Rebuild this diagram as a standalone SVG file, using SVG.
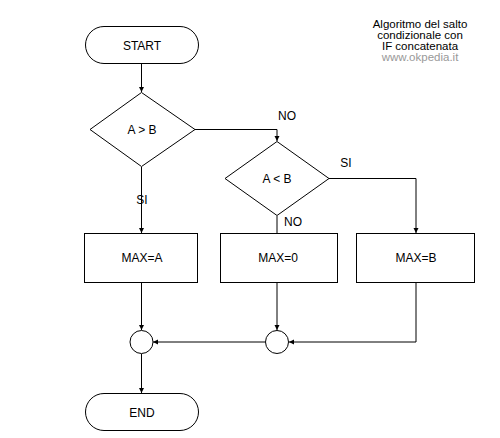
<svg xmlns="http://www.w3.org/2000/svg" width="500" height="438" viewBox="0 0 500 438">
<style>
.shape{fill:#fff;stroke:#000;stroke-width:1}
.lbl{font-family:"Liberation Sans",Arial,sans-serif;font-size:12px;fill:#000;text-anchor:middle}
.edge{fill:none;stroke:#000;stroke-width:1}
.title{font-family:"Liberation Sans",Arial,sans-serif;font-size:11.5px;text-anchor:middle;fill:#000}
</style>
<defs>
<marker id="arr" markerUnits="userSpaceOnUse" markerWidth="6" markerHeight="6" refX="5" refY="3" orient="auto">
<path d="M0,0.5 L5,3 L0,5.5 z" fill="#000"/>
</marker>
</defs>
<rect width="500" height="438" fill="#fff"/>
<g id="title">
<text class="title" x="420" y="28">Algoritmo del salto<tspan x="420" dy="11">condizionale con</tspan><tspan x="420" dy="11">IF concatenata</tspan><tspan x="420" dy="11" style="fill:#999">www.okpedia.it</tspan></text>
</g>
<g id="connectors">
<path class="edge" d="M141.5,64 V92" marker-end="url(#arr)"/>
<path class="edge" d="M195,129.5 H277 V141" marker-end="url(#arr)"/>
<path class="edge" d="M329,178.5 H416 V233" marker-end="url(#arr)"/>
<path class="edge" d="M141.5,167 V233" marker-end="url(#arr)"/>
<path class="edge" d="M277,216 V233"/>
<path class="edge" d="M141.5,282 V330" marker-end="url(#arr)"/>
<path class="edge" d="M277,282 V330" marker-end="url(#arr)"/>
<path class="edge" d="M416,282 V342 H289" marker-end="url(#arr)"/>
<path class="edge" d="M265,342 H153" marker-end="url(#arr)"/>
<path class="edge" d="M141.5,354 V393" marker-end="url(#arr)"/>
<text class="lbl" x="287" y="120">NO</text>
<text class="lbl" x="142" y="204">SI</text>
<text class="lbl" x="346" y="167">SI</text>
<text class="lbl" x="293" y="226">NO</text>
</g>
<g id="start">
<rect class="shape" x="85.5" y="26.5" width="113" height="37" rx="18.5" ry="18.5"/>
<text class="lbl" x="142" y="49.5">START</text>
</g>
<g id="cond1">
<polygon class="shape" points="141.5,92.5 195,129.5 141.5,166.5 90,129.5"/>
<text class="lbl" x="142" y="134">A &gt; B</text>
</g>
<g id="cond2">
<polygon class="shape" points="277,141.5 329,178.5 277,215.5 225,178.5"/>
<text class="lbl" x="277" y="183">A &lt; B</text>
</g>
<g id="maxa">
<rect class="shape" x="84.5" y="233.5" width="113" height="49"/>
<text class="lbl" x="142" y="262">MAX=A</text>
</g>
<g id="max0">
<rect class="shape" x="220.5" y="233.5" width="117" height="49"/>
<text class="lbl" x="278" y="262">MAX=0</text>
</g>
<g id="maxb">
<rect class="shape" x="356.5" y="233.5" width="118" height="49"/>
<text class="lbl" x="416" y="262">MAX=B</text>
</g>
<g id="join1">
<circle class="shape" cx="141.5" cy="342" r="11.5"/>
</g>
<g id="join2">
<circle class="shape" cx="277" cy="342" r="11.5"/>
</g>
<g id="end">
<rect class="shape" x="85.5" y="393.5" width="113" height="37" rx="18.5" ry="18.5"/>
<text class="lbl" x="142" y="416.5">END</text>
</g>
</svg>
